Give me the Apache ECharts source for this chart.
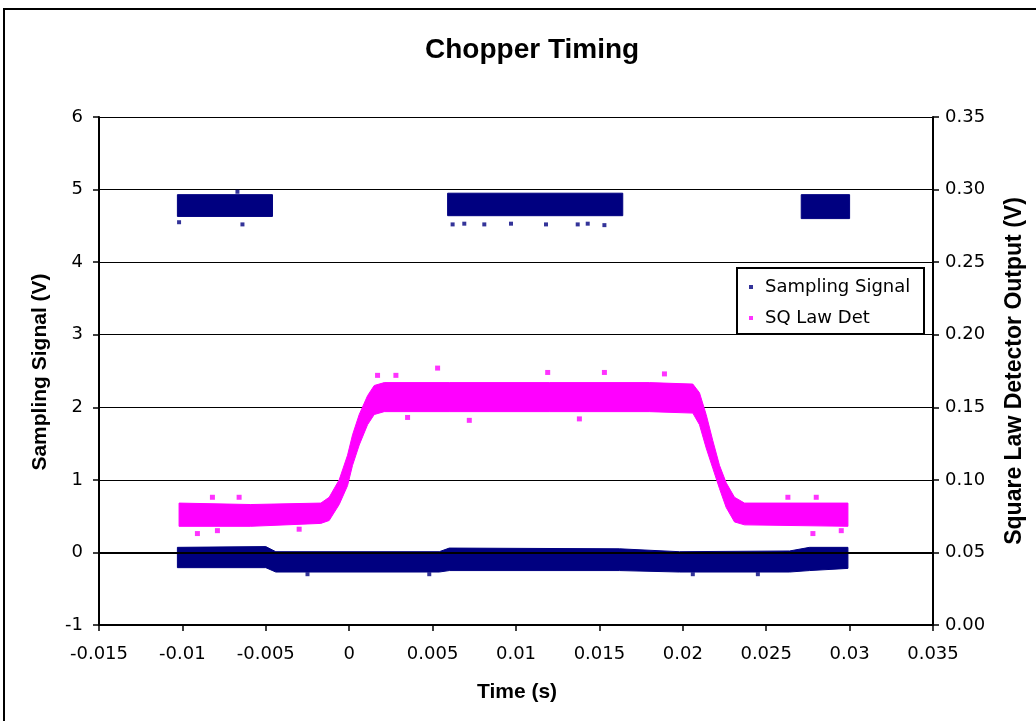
<!DOCTYPE html>
<html>
<head>
<meta charset="utf-8">
<script src="https://cdn.jsdelivr.net/npm/echarts@6/dist/echarts.min.js"></script>
<style>
  html, body { margin: 0; padding: 0; background: #fff; }
  #main { width: 1036px; height: 721px; }
</style>
</head>
<body>
<div id="main"></div>
<script>
// SQ law detector envelope (right axis, V)
var sqTime = [-0.0102, -0.0059, -0.0017, -0.0012, -0.0006, -0.0001, 0.0002, 0.0006, 0.0011, 0.0015, 0.0021, 0.0060, 0.0120, 0.0180, 0.0206, 0.0210, 0.0214, 0.0218, 0.0222, 0.0226, 0.0231, 0.0237, 0.0299]
var sqHigh = [0.084, 0.083, 0.084, 0.088, 0.100, 0.117, 0.131, 0.145, 0.158, 0.165, 0.167, 0.167, 0.167, 0.167, 0.166, 0.160, 0.145, 0.127, 0.110, 0.098, 0.088, 0.084, 0.084]
var sqLow = [0.068, 0.068, 0.070, 0.072, 0.083, 0.096, 0.110, 0.124, 0.138, 0.145, 0.147, 0.147, 0.147, 0.147, 0.146, 0.138, 0.122, 0.108, 0.094, 0.081, 0.071, 0.069, 0.068]

// sampling signal, low state envelope (left axis, V)
var lowTime = [-0.0103, -0.0050, -0.0044, 0.0054, 0.0060, 0.0162, 0.0198, 0.0264, 0.0276, 0.0299]
var lowHigh = [0.07, 0.08, 0.01, 0.01, 0.06, 0.05, 0.01, 0.02, 0.07, 0.07]
var lowLow = [-0.21, -0.21, -0.27, -0.27, -0.25, -0.25, -0.27, -0.27, -0.25, -0.22]

// sampling signal, high state blocks
var highStart = [-0.0103, 0.0059, 0.0271]
var highEnd = [-0.0046, 0.0164, 0.0300]
var highLow = [4.63, 4.64, 4.60]
var highHigh = [4.93, 4.95, 4.93]

// stray points
var sampTime = [-0.0102, -0.0064, -0.0067, 0.0062, 0.0069, 0.0081, 0.0097, 0.0118, 0.0137, 0.0143, 0.0153, -0.0025, 0.0048, 0.0206, 0.0245]
var sampVal = [4.55, 4.52, 4.97, 4.52, 4.53, 4.52, 4.53, 4.52, 4.52, 4.53, 4.51, -0.30, -0.30, -0.30, -0.30]
var sqTimePts = [0.0017, 0.0028, 0.0053, 0.0119, 0.0153, 0.0189, 0.0035, 0.0072, 0.0138, -0.0082, -0.0066, -0.0091, -0.0079, 0.0263, 0.0280, 0.0278, 0.0295, -0.0030]
var sqValPts = [0.172, 0.172, 0.177, 0.174, 0.174, 0.173, 0.143, 0.141, 0.142, 0.088, 0.088, 0.063, 0.065, 0.088, 0.088, 0.063, 0.065, 0.066]

var xTicks = { min: -0.015, max: 0.035, step: 0.005 }

var NAVY = '#000080'
var PINK = '#FF00FF'
var LABEL_FONT = 'DejaVu Sans'
var TITLE_FONT = 'Liberation Sans'

function zip(a, b) {
  return a.map(function (v, i) { return [v, b[i]] })
}

function bandPolygon(api, times, his, los) {
  var pts = []
  for (var i = 0; i < times.length; i++) pts.push(api.coord([times[i], his[i]]))
  for (var j = times.length - 1; j >= 0; j--) pts.push(api.coord([times[j], los[j]]))
  return pts
}

var myChart = echarts.init(document.getElementById('main'))

var option = {
  animation: false,
  backgroundColor: '#fff',
  title: {
    text: 'Chopper Timing',
    left: 420,
    top: 31,
    textStyle: { fontFamily: TITLE_FONT, fontSize: 28, fontWeight: 'bold', color: '#000' }
  },
  legend: {
    orient: 'vertical',
    left: 749,
    top: 278,
    padding: 0,
    itemGap: 13,
    itemWidth: 4,
    itemHeight: 4,
    z: 200,
    data: [
      { name: 'Sampling Signal', icon: 'rect' },
      { name: 'SQ Law Det', icon: 'rect' }
    ],
    textStyle: { fontFamily: LABEL_FONT, fontSize: 18, color: '#000', padding: [0, 0, 0, 7] }
  },
  grid: { left: 99, right: 103, top: 117, bottom: 96, containLabel: false },
  xAxis: {
    type: 'value',
    min: xTicks.min,
    max: xTicks.max,
    interval: xTicks.step,
    axisLine: { onZero: false, lineStyle: { color: '#000', width: 2 } },
    axisTick: { show: true, inside: false, length: 6, lineStyle: { color: '#000', width: 1.5 } },
    axisLabel: {
      margin: 20,
      fontFamily: LABEL_FONT, fontSize: 18, color: '#000',
      formatter: function (v) { return String(+v.toFixed(3)) }
    },
    splitLine: { show: false }
  },
  yAxis: [
    {
      type: 'value',
      min: -1,
      max: 6,
      interval: 1,
      axisLine: { show: true, onZero: false, lineStyle: { color: '#000', width: 2 } },
      axisTick: { show: true, length: 6, lineStyle: { color: '#000', width: 1.5 } },
      axisLabel: { margin: 16, fontFamily: LABEL_FONT, fontSize: 18, color: '#000' },
      splitLine: { show: true, lineStyle: { color: '#000', width: 1 } }
    },
    {
      type: 'value',
      min: 0,
      max: 0.35,
      interval: 0.05,
      position: 'right',
      axisLine: { show: true, onZero: false, lineStyle: { color: '#000', width: 2 } },
      axisTick: { show: true, length: 6, lineStyle: { color: '#000', width: 1.5 } },
      axisLabel: {
        margin: 12, fontFamily: LABEL_FONT, fontSize: 18, color: '#000',
        formatter: function (v) { return v.toFixed(2) }
      },
      splitLine: { show: false }
    }
  ],
  graphic: [
    // outer chart frame
    { type: 'rect', shape: { x: 4, y: 9, width: 1100, height: 800 }, style: { fill: 'none', stroke: '#000', lineWidth: 2 }, z: 100 },
    // legend box
    { type: 'rect', shape: { x: 737, y: 268, width: 187, height: 66 }, style: { fill: '#fff', stroke: '#000', lineWidth: 2 }, z: 5 },
    {
      type: 'text', x: 40, y: 372, rotation: Math.PI / 2,
      style: { text: 'Sampling Signal (V)', font: 'bold 21px "Liberation Sans"', fill: '#000', textAlign: 'center', textVerticalAlign: 'middle' }
    },
    {
      type: 'text', x: 1015, y: 371, rotation: Math.PI / 2,
      style: { text: 'Square Law Detector Output (V)', font: 'bold 23px "Liberation Sans"', fill: '#000', textAlign: 'center', textVerticalAlign: 'middle' }
    },
    {
      type: 'text', x: 517, y: 692,
      style: { text: 'Time (s)', font: 'bold 21px "Liberation Sans"', fill: '#000', textAlign: 'center', textVerticalAlign: 'middle' }
    }
  ],
  series: [
    {
      // heavier zero line
      type: 'line',
      yAxisIndex: 0,
      data: [],
      silent: true,
      markLine: {
        symbol: 'none', silent: true, label: { show: false },
        lineStyle: { color: '#000', width: 2, type: 'solid' },
        data: [{ yAxis: 0 }]
      }
    },
    {
      name: 'Sampling band',
      type: 'custom',
      yAxisIndex: 0,
      data: [0, 1, 2, 3],
      renderItem: function (params, api) {
        var i = params.dataIndex
        var pts
        if (i === 0) {
          pts = bandPolygon(api, lowTime, lowHigh, lowLow)
        } else {
          var k = i - 1
          pts = bandPolygon(api, [highStart[k], highEnd[k]], [highHigh[k], highHigh[k]], [highLow[k], highLow[k]])
        }
        return { type: 'polygon', shape: { points: pts }, style: { fill: NAVY, stroke: NAVY, lineWidth: 1 } }
      },
      z: 3
    },
    {
      name: 'SQ band',
      type: 'custom',
      yAxisIndex: 1,
      data: [0],
      renderItem: function (params, api) {
        return { type: 'polygon', shape: { points: bandPolygon(api, sqTime, sqHigh, sqLow) }, style: { fill: PINK, stroke: PINK, lineWidth: 1 } }
      },
      z: 2
    },
    {
      name: 'Sampling Signal',
      type: 'scatter',
      yAxisIndex: 0,
      symbol: 'rect',
      symbolSize: 4,
      itemStyle: { color: NAVY },
      data: zip(sampTime, sampVal),
      z: 3
    },
    {
      name: 'SQ Law Det',
      type: 'scatter',
      yAxisIndex: 1,
      symbol: 'rect',
      symbolSize: 5,
      itemStyle: { color: PINK },
      data: zip(sqTimePts, sqValPts),
      z: 2
    }
  ]
}

option && myChart.setOption(option)
</script>
</body>
</html>
